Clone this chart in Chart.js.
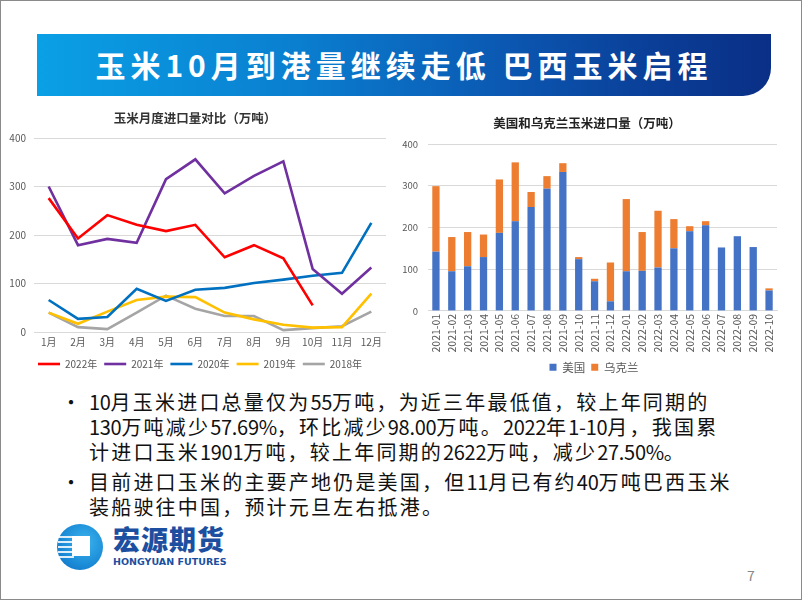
<!DOCTYPE html>
<html>
<head>
<meta charset="utf-8">
<script src="https://cdn.jsdelivr.net/npm/chart.js@4.4.1/dist/chart.umd.min.js"></script>
<style>
  html, body { margin: 0; padding: 0; background: #fff; }
  #slide { position: relative; width: 800px; height: 598px; border: 1px solid #8a8a8a; overflow: hidden;
           font-family: "Noto Sans CJK SC", "Noto Sans", sans-serif; }
  #banner { position: absolute; left: 36px; top: 33px; width: 734px; height: 62px;
            background: linear-gradient(90deg, #0aa0e6 0%, #0a7fd0 35%, #0b56b0 65%, #0a3d96 85%, #0a2f86 100%);
            border-bottom-right-radius: 28px; }
  #banner .t { position: absolute; left: 0; right: 0; top: 12px; text-align: center; color: #fff;
               font-size: 30px; font-weight: bold; letter-spacing: 5px; line-height: 36px; }
  .cv { position: absolute; }
  #bullets { position: absolute; left: 60px; top: 388px; font-size: 20px; color: #111; line-height: 25px;
             white-space: nowrap; letter-spacing: 2.2px; }
  #bullets .n { letter-spacing: -0.3px; }
  #bullets .p { position: relative; padding-left: 28px; }
  #bullets .p:before { content: "•"; position: absolute; left: 0; top: 0; }
  #bullets .p + .p { margin-top: 5px; }
  #logo { position: absolute; left: 55px; top: 522px; width: 180px; height: 52px; }
  #logo .c { position: absolute; left: 1px; top: 1px; width: 46px; height: 46px; border-radius: 50%;
             background: radial-gradient(circle at 60% 40%, #3bb4ee 0%, #1a8ad6 60%, #0f6cc0 100%); }
  #logo .sq { position: absolute; left: 15px; top: 12px; width: 18px; height: 20px; background: #fff; }
  #logo .st { position: absolute; left: 1px; height: 2px; width: 16px; background: #fff; opacity: .85; }
  #logo .cn { position: absolute; left: 57px; top: 0px; font-size: 27px; font-weight: 900; color: #1c4f9f; letter-spacing: 1px; line-height: 32px; }
  #logo .en { position: absolute; left: 57px; top: 33px; font-size: 9.5px; font-weight: bold; color: #1c4f9f; letter-spacing: 0px; font-family: "DejaVu Sans", sans-serif; }
  #pg { position: absolute; left: 746px; top: 564px; font-size: 14px; color: #888; }
</style>
</head>
<body>
<div id="slide">
  <div id="banner"><div class="t">玉米10月到港量继续走低 巴西玉米启程</div></div>
  <canvas id="left" class="cv" width="386" height="280" style="left:1px;top:104px;"></canvas>
  <canvas id="right" class="cv" width="400" height="278" style="left:392px;top:108px;"></canvas>
  <div id="bullets">
    <div class="p"><span class="n">10</span>月玉米进口总量仅为<span class="n">55</span>万吨，为近三年最低值，较上年同期的<br><span class="n">130</span>万吨减少<span class="n">57.69%</span>，环比减少<span class="n">98.00</span>万吨。<span class="n">2022</span>年<span class="n">1-10</span>月，我国累<br>计进口玉米<span class="n">1901</span>万吨，较上年同期的<span class="n">2622</span>万吨，减少<span class="n">27.50%</span>。</div>
    <div class="p">目前进口玉米的主要产地仍是美国，但<span class="n">11</span>月已有约<span class="n">40</span>万吨巴西玉米<br>装船驶往中国，预计元旦左右抵港。</div>
  </div>
  <div id="logo">
    <div class="c">
      <div class="st" style="top:12px"></div>
      <div class="st" style="top:17px"></div>
      <div class="st" style="top:22px"></div>
      <div class="st" style="top:27px"></div>
      <div class="st" style="top:32px"></div>
      <div class="sq"></div>
    </div>
    <div class="cn">宏源期货</div>
    <div class="en">HONGYUAN FUTURES</div>
  </div>
  <div id="pg">7</div>
</div>
<script>
// left chart: monthly corn imports by year (10k tons)
const months = ["1月","2月","3月","4月","5月","6月","7月","8月","9月","10月","11月","12月"];
const y2022 = [276, 193, 241, 221, 208, 221, 154, 179, 152, 55, null, null];
const y2021 = [300, 179, 192, 184, 315, 356, 286, 322, 352, 130, 79, 133];
const y2020 = [66, 27, 31, 89, 64, 87, 91, 101, 108, 116, 122, 225];
const y2019 = [40, 17, 42, 66, 73, 72, 40, 26, 15, 9, 10, 79];
const y2018 = [40, 10, 6, 40, 75, 48, 33, 33, 4, 8, 12, 42];
const leftTicks = [0, 100, 200, 300, 400];

// right chart: US and Ukraine imports (10k tons)
const periods = ["2021-01","2021-02","2021-03","2021-04","2021-05","2021-06","2021-07","2021-08","2021-09","2021-10","2021-11",
                 "2021-12","2022-01","2022-02","2022-03","2022-04","2022-05","2022-06","2022-07","2022-08","2022-09","2022-10"];
const usa     = [142, 95, 107, 129, 187, 215, 249, 293, 333, 124, 71, 23, 95, 96, 104, 150, 191, 205, 152, 179, 153, 49];
const ukraine = [157, 82, 82, 54, 128, 141, 36, 30, 21, 5, 6, 93, 173, 93, 136, 70, 12, 10, 0, 0, 0, 5];

const tickColor = "#595959";
const gridColor = "#d9d9d9";
const fam = "'Noto Sans CJK SC', 'Noto Sans', sans-serif";

function lineSet(label, data, color) {
  return { label, data, borderColor: color, backgroundColor: color, borderWidth: 2.6,
           pointRadius: 0, tension: 0, fill: false, spanGaps: false };
}

// nudge a legend sideways after layout (legend box is centred on the full width otherwise)
function legendShift(dx) {
  return { id: "legendShift", afterLayout(chart) { chart.legend.left += dx; chart.legend.right += dx; } };
}

new Chart(document.getElementById("left"), {
  type: "line",
  data: {
    labels: months,
    datasets: [
      lineSet("2022年", y2022, "#ff0000"),
      lineSet("2021年", y2021, "#7030a0"),
      lineSet("2020年", y2020, "#0070c0"),
      lineSet("2019年", y2019, "#ffc000"),
      lineSet("2018年", y2018, "#a5a5a5")
    ]
  },
  plugins: [legendShift(5)],
  options: {
    responsive: false, animation: false,
    layout: { padding: { left: 2, right: 2, top: 0, bottom: 6 } },
    plugins: {
      title: { display: true, text: "玉米月度进口量对比（万吨）", color: "#333",
               font: { family: fam, size: 12.5 }, padding: { top: 6, bottom: 12 } },
      legend: { position: "bottom",
                labels: { usePointStyle: true, pointStyle: "line", pointStyleWidth: 22, boxHeight: 10,
                          color: tickColor, font: { family: fam, size: 10 }, padding: 7 } },
      tooltip: { enabled: false }
    },
    scales: {
      x: { offset: true, grid: { display: false, drawTicks: false }, border: { display: false },
           ticks: { color: tickColor, font: { family: fam, size: 10 }, padding: 4 } },
      y: { min: 0, max: 400, afterBuildTicks: s => { s.ticks = leftTicks.map(v => ({ value: v })); },
           afterFit: s => { s.width = 30; },
           grid: { color: gridColor, drawTicks: false }, border: { display: false },
           ticks: { color: tickColor, font: { family: fam, size: 10 }, padding: 8 } }
    }
  }
});

new Chart(document.getElementById("right"), {
  type: "bar",
  data: {
    labels: periods,
    datasets: [
      { label: "美国", data: usa, backgroundColor: "#4472c4", barPercentage: 0.46, categoryPercentage: 1 },
      { label: "乌克兰", data: ukraine, backgroundColor: "#ed7d31", barPercentage: 0.46, categoryPercentage: 1 }
    ]
  },
  plugins: [legendShift(7)],
  options: {
    responsive: false, animation: false,
    layout: { padding: { left: 4, right: 16, top: 0, bottom: 4 } },
    plugins: {
      title: { display: true, text: "美国和乌克兰玉米进口量（万吨）", color: "#222",
               font: { family: fam, size: 12.5, weight: "bold" }, padding: { top: 7, bottom: 13 } },
      legend: { position: "bottom",
                labels: { boxWidth: 7, boxHeight: 7, color: tickColor, font: { family: fam, size: 11.5 }, padding: 6 } },
      tooltip: { enabled: false }
    },
    scales: {
      x: { stacked: true, grid: { display: false, drawTicks: false }, border: { color: gridColor },
           ticks: { color: tickColor, font: { family: fam, size: 10.5 }, minRotation: 90, maxRotation: 90, autoSkip: false, padding: 3 } },
      y: { stacked: true, min: 0, max: 400, afterFit: s => { s.width = 31; },
           ticks: { stepSize: 100, color: tickColor, font: { family: fam, size: 9.5 }, padding: 10 },
           grid: { color: gridColor, drawTicks: false }, border: { display: false } }
    }
  }
});
</script>
</body>
</html>
